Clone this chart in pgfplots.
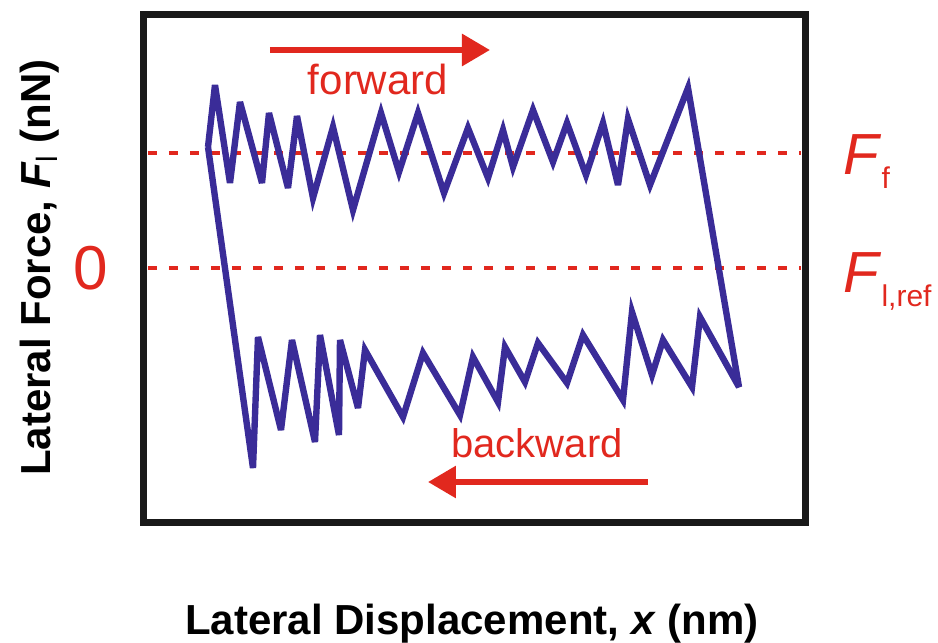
\documentclass[border=0pt]{standalone}
\usepackage{fontspec}
\setmainfont{Liberation Sans}
\usepackage{pgfplots}
\pgfplotsset{compat=1.18}
\usetikzlibrary{arrows.meta}
\definecolor{fred}{RGB}{225,40,30}
\definecolor{fblue}{RGB}{58,44,152}
\begin{document}
\begin{tikzpicture}
\begin{axis}[
  x=0.5pt, y=0.5pt,
  xmin=144, xmax=805, ymin=121, ymax=628.5,
  axis line style={line width=3.5pt, black!90},
  xtick=\empty, ytick={375}, yticklabels={0},
  major tick length=0pt,
  yticklabel style={text=fred, font=\fontsize{31}{33}\selectfont, inner sep=0pt, anchor=east, xshift=-18pt},
  clip=false,
  xlabel={Lateral Displacement, \textit{x} (nm)},
  ylabel={Lateral Force, \textit{F}\textsubscript{\normalfont l} (nN)},
  xlabel style={at={(axis description cs:0.496,-0.2207)}, anchor=base, font=\fontsize{21}{24}\selectfont\bfseries},
  ylabel style={at={(axis description cs:-0.1422,0.5015)}, anchor=base, rotate=0, font=\fontsize{21}{24}\selectfont\bfseries},
]
% reference lines
\addplot[fred, line width=2pt, dash pattern=on 4.5pt off 6pt] coordinates {(148,490) (801,490)};
\addplot[fred, line width=2pt, dash pattern=on 4.5pt off 6pt] coordinates {(148,375) (801,375)};
% friction loop
\addplot[fblue, line width=3.2pt, line join=miter, miter limit=5] coordinates {
(208,496) (215,558) (230,460) (240,541) (262,460) (269,530) (288,455) (297,527)
(313,445) (333,516) (353,433) (381,530) (399,471) (418,530) (444,450) (468,515)
(488,465) (503,513) (513,476) (533,533) (553,481) (567,520) (586,468) (603,520)
(618,458) (628,524) (650,458) (688,555) (739,256)
(700,326) (692,256) (663,303) (652,268) (632,331) (623,243) (583,308) (567,260)
(538,300) (525,261) (505,296) (498,241) (473,286) (460,228) (423,290) (403,226)
(365,293) (358,235) (340,303) (339,208) (320,308) (315,201) (292,303) (281,213)
(258,306) (253,175) (208,496)
};
% arrows and annotations
\draw[fred, line width=3pt, -{Triangle[length=14pt,width=15.5pt]}] (axis cs:270,593) -- (axis cs:490,593);
\draw[fred, line width=3pt, -{Triangle[length=14pt,width=15.5pt]}] (axis cs:648,161) -- (axis cs:428,161);
\node[fred, anchor=base, inner sep=0pt, font=\fontsize{21}{24}\selectfont] at (axis cs:378,548) {forward};
\node[fred, anchor=base, inner sep=0pt, font=\fontsize{20}{24}\selectfont] at (axis cs:537,186) {backward};
\node[fred, anchor=base west, inner sep=0pt, font=\fontsize{29}{32}\selectfont] at (axis cs:843,468) {\textit{F}\raisebox{-7pt}{\fontsize{15}{16}\selectfont f}};
\node[fred, anchor=base west, inner sep=0pt, font=\fontsize{29}{32}\selectfont] at (axis cs:843,350) {\textit{F}\raisebox{-7pt}{\fontsize{15}{16}\selectfont l,ref}};
\coordinate (bl) at (axis cs:0,0);
\coordinate (tr) at (axis cs:938,643);
\end{axis}
\pgfresetboundingbox
\path[use as bounding box] (bl) rectangle (tr);
\end{tikzpicture}
\end{document}
